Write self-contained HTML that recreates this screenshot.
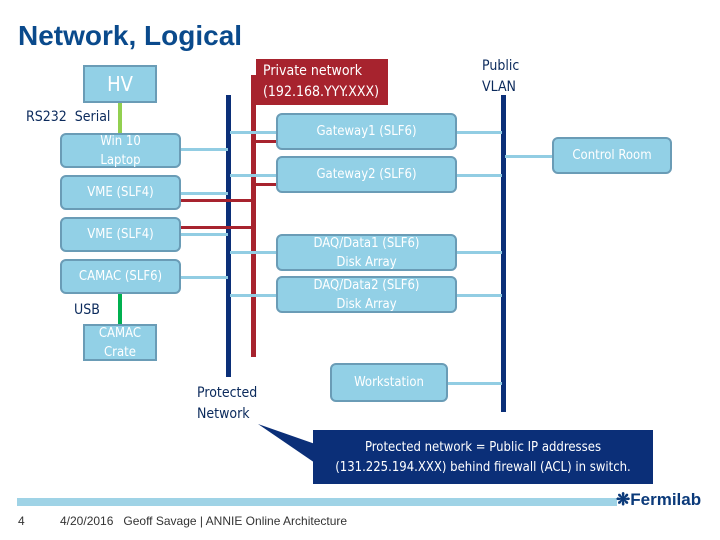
<!DOCTYPE html>
<html><head><style>
body{margin:0;width:720px;height:540px;background:#fff;position:relative;overflow:hidden;font-family:"Liberation Sans",sans-serif}
.a{position:absolute}
.box{position:absolute;background:#92d0e6;border:2px solid #6a9cb6;border-radius:6px;color:#fff;text-align:center;box-sizing:border-box;font-family:"DejaVu Sans Condensed","Liberation Sans",sans-serif;font-size:13px;line-height:19px;display:flex;align-items:center;justify-content:center;flex-direction:column}
.sq{border-radius:0}
.l{position:absolute;background:#92cde3}
.r{position:absolute;background:#a7232e}
.t{position:absolute;color:#0b2a5c;font-family:"DejaVu Sans Condensed","Liberation Sans",sans-serif;font-size:14px;line-height:21px}
</style></head><body>
<div class="a" style="left:18px;top:20px;font-size:28px;font-weight:bold;color:#0a4a8c">Network, Logical</div>

<div class="a" style="left:226px;top:95px;width:5px;height:282px;background:#0b2f78"></div>
<div class="a" style="left:501px;top:95px;width:5px;height:317px;background:#0b2f78"></div>
<div class="r" style="left:251px;top:75px;width:5px;height:282px"></div>
<div class="r" style="left:256px;top:59px;width:132px;height:46px"></div>
<div class="a" style="left:263px;top:61px;color:#fff;font-family:'DejaVu Sans Condensed',sans-serif;font-size:14px;line-height:21px">Private network<br>(192.168.YYY.XXX)</div>

<div class="l" style="left:180px;top:148px;width:48px;height:3px"></div>
<div class="l" style="left:180px;top:192px;width:48px;height:3px"></div>
<div class="l" style="left:180px;top:233px;width:48px;height:3px"></div>
<div class="l" style="left:180px;top:276px;width:48px;height:3px"></div>
<div class="l" style="left:230px;top:131px;width:46px;height:3px"></div>
<div class="l" style="left:230px;top:174px;width:46px;height:3px"></div>
<div class="l" style="left:230px;top:251px;width:46px;height:3px"></div>
<div class="l" style="left:230px;top:294px;width:46px;height:3px"></div>
<div class="l" style="left:456px;top:131px;width:46px;height:3px"></div>
<div class="l" style="left:456px;top:174px;width:46px;height:3px"></div>
<div class="l" style="left:456px;top:251px;width:46px;height:3px"></div>
<div class="l" style="left:456px;top:294px;width:46px;height:3px"></div>
<div class="l" style="left:505px;top:155px;width:48px;height:3px"></div>
<div class="l" style="left:447px;top:382px;width:55px;height:3px"></div>
<div class="r" style="left:256px;top:140px;width:20px;height:3px"></div>
<div class="r" style="left:256px;top:183px;width:20px;height:3px"></div>
<div class="r" style="left:180px;top:199px;width:72px;height:3px"></div>
<div class="r" style="left:180px;top:226px;width:72px;height:3px"></div>
<div class="a" style="left:118px;top:103px;width:4px;height:30px;background:#92d050"></div>
<div class="a" style="left:118px;top:294px;width:4px;height:30px;background:#00b050"></div>

<div class="box sq" style="left:83px;top:65px;width:74px;height:38px;font-size:20px">HV</div>
<div class="box" style="left:60px;top:133px;width:121px;height:35px">Win 10<br>Laptop</div>
<div class="box" style="left:60px;top:175px;width:121px;height:35px">VME (SLF4)</div>
<div class="box" style="left:60px;top:217px;width:121px;height:35px">VME (SLF4)</div>
<div class="box" style="left:60px;top:259px;width:121px;height:35px">CAMAC (SLF6)</div>
<div class="box sq" style="left:83px;top:324px;width:74px;height:37px">CAMAC<br>Crate</div>
<div class="box" style="left:276px;top:113px;width:181px;height:37px">Gateway1 (SLF6)</div>
<div class="box" style="left:276px;top:156px;width:181px;height:37px">Gateway2 (SLF6)</div>
<div class="box" style="left:276px;top:234px;width:181px;height:37px">DAQ/Data1 (SLF6)<br>Disk Array</div>
<div class="box" style="left:276px;top:276px;width:181px;height:37px">DAQ/Data2 (SLF6)<br>Disk Array</div>
<div class="box" style="left:552px;top:137px;width:120px;height:37px">Control Room</div>
<div class="box" style="left:330px;top:363px;width:118px;height:39px">Workstation</div>

<div class="t" style="left:26px;top:107px">RS232&nbsp; Serial</div>
<div class="t" style="left:74px;top:300px">USB</div>
<div class="t" style="left:482px;top:56px">Public<br>VLAN</div>
<div class="t" style="left:197px;top:383px">Protected<br>Network</div>

<svg class="a" style="left:0;top:0" width="720" height="540"><polygon points="258,424 318,445 318,465" fill="#0b2f78"/></svg>
<div class="a" style="left:313px;top:430px;width:340px;height:54px;background:#0b2f78;color:#fff;text-align:center;font-family:'DejaVu Sans Condensed',sans-serif;font-size:13px;line-height:20px;padding-top:8px;box-sizing:border-box">Protected network = Public IP addresses<br>(131.225.194.XXX) behind firewall (ACL) in switch.</div>

<div class="a" style="left:17px;top:498px;width:600px;height:8px;background:#9fd3e6"></div>
<div class="a" style="left:616px;top:490px;font-size:17px;font-weight:bold;color:#0b3a7a">&#10059;Fermilab</div>
<div class="a" style="left:18px;top:514px;font-size:12px;color:#333">4</div>
<div class="a" style="left:60px;top:514px;font-size:12px;color:#333">4/20/2016&nbsp;&nbsp; Geoff Savage | ANNIE Online Architecture</div>
</body></html>
